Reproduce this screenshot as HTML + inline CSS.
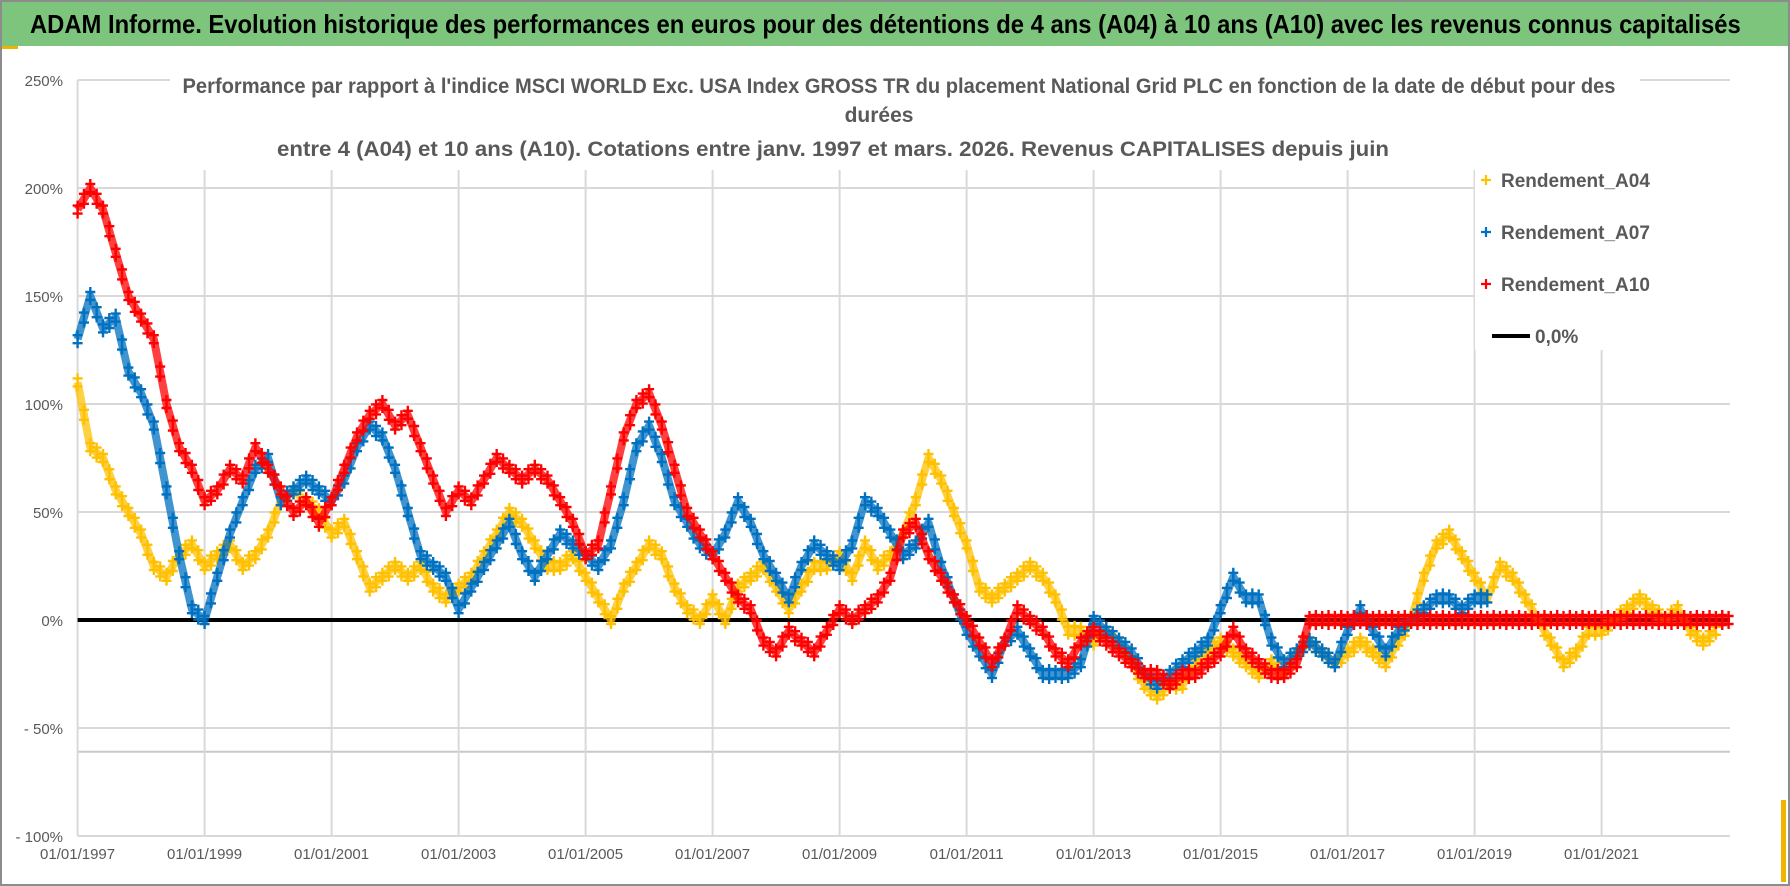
<!DOCTYPE html>
<html><head><meta charset="utf-8"><style>
body{margin:0;background:#fff;}
#wrap{position:relative;width:1790px;height:886px;overflow:hidden;background:#fff;font-family:"Liberation Sans",sans-serif;}
#frame{position:absolute;left:0;top:0;width:1786px;height:882px;border:2px solid #8c8c8c;}
#title{position:absolute;left:2px;top:2px;width:1786px;height:44px;background:#7dc47d;overflow:hidden;}
#titletext{position:absolute;left:28px;top:0;font-family:"Liberation Sans",sans-serif;font-weight:bold;font-size:26px;line-height:44px;color:#000;white-space:nowrap;transform:scaleX(0.915);transform-origin:0 50%;}
#bar{position:absolute;left:2px;top:46px;width:16px;height:3px;background:#f0b400;}
svg{position:absolute;left:0;top:0;}
</style></head><body>
<div id="wrap">
<div id="frame"></div>
<div id="title"><span id="titletext">ADAM Informe. Evolution historique des performances en euros pour des détentions de 4 ans (A04) à 10 ans (A10) avec les revenus connus capitalisés</span></div>
<div id="bar"></div>
<svg id="chart" width="1790" height="886"></svg>
</div>
<script>
const startYear = 1997;
const stepYears = 0.2;
const yTicks = [250,200,150,100,50,0,-50,-100];
const yTickLabels = ["250%","200%","150%","100%","50%","0%","- 50%","- 100%"];
const xTickYears = [1997,1999,2001,2003,2005,2007,2009,2011,2013,2015,2017,2019,2021];
const xTickLabels = ["01/01/1997","01/01/1999","01/01/2001","01/01/2003","01/01/2005","01/01/2007","01/01/2009","01/01/2011","01/01/2013","01/01/2015","01/01/2017","01/01/2019","01/01/2021"];
const seriesNames = ["Rendement_A04","Rendement_A07","Rendement_A10"];
const a04 = [110,80,75,60,50,40,25,20,30,35,25,30,35,25,30,40,55,60,55,50,40,45,30,15,20,25,20,25,15,10,15,20,30,40,50,45,35,25,25,30,20,10,0,15,25,35,30,15,5,0,10,0,15,20,25,15,5,15,25,25,30,20,35,25,30,40,55,75,65,50,35,15,10,15,20,25,20,10,-5,-5,-10,-5,-10,-20,-30,-35,-30,-30,-20,-15,-10,-15,-20,-25,-20,-25,-15,-10,-15,-20,-15,-10,-15,-20,-10,0,20,35,40,30,20,10,25,20,10,0,-10,-20,-15,-5,-5,0,5,10,5,0,5,-5,-10,-5];
const a07 = [130,150,135,140,115,105,90,60,30,5,0,20,40,55,70,75,55,60,65,60,55,65,80,90,85,70,50,30,25,20,5,15,25,35,45,30,20,30,40,35,30,25,35,55,80,90,75,55,45,35,30,40,55,45,30,20,10,25,35,30,25,35,55,50,40,30,35,45,25,10,-5,-15,-25,-10,-5,-15,-25,-25,-25,-20,0,-5,-10,-15,-25,-30,-25,-20,-15,-10,5,20,10,10,-10,-20,-15,-10,-15,-20,-5,5,-5,-15,-5,0,5,10,10,5,10,10];
const a10 = [190,200,190,170,150,140,130,100,80,70,55,60,70,65,80,70,60,50,55,45,55,70,85,95,100,90,95,80,65,50,60,55,65,75,70,65,70,65,55,45,30,35,60,85,100,105,90,70,50,40,30,20,10,5,-10,-15,-5,-10,-15,-5,5,0,5,10,20,40,45,30,20,10,0,-10,-20,-10,5,0,-5,-15,-20,-10,-5,-10,-15,-20,-25,-25,-30,-25,-25,-20,-15,-5,-15,-20,-25,-25,-20,0,0,0,0,0,0,0,0,0,0,0,0,0,0,0,0,0,0,0,0,0,0,0,0,0,0,0,0,0,0,0,0,0,0];
const seriesData = [a04,a07,a10];
const colors = ["#ffc000","#0070c0","#ff0000"];

const NS="http://www.w3.org/2000/svg";
const svg=document.getElementById('chart');
const X0=77.6, PXY=63.5, Y0=620, PXP=2.16, XR=1730;
function xs(yr){return X0+(yr-1997)*PXY;}
function ys(v){return Y0-v*PXP;}
function mk(tag,attrs,parent){const e=document.createElementNS(NS,tag);for(const k in attrs)e.setAttribute(k,attrs[k]);(parent||svg).appendChild(e);return e;}

yTicks.forEach((t,i)=>{
  const l=mk('line',{x1:X0,x2:XR,y1:ys(t),y2:ys(t),stroke:'#d9d9d9','stroke-width':2});
  
  
  const tx=mk('text',{x:63,y:ys(t)+6,'text-anchor':'end','font-size':15,fill:'#595959','font-family':'Liberation Sans, sans-serif'});
  tx.textContent=yTickLabels[i];
  
  
});
const ex=mk('line',{x1:X0,x2:XR,y1:ys(-61),y2:ys(-61),stroke:'#c8c8c8','stroke-width':2});


xTickYears.forEach((yr,i)=>{
  if(i>0){const l=mk('line',{x1:xs(yr),x2:xs(yr),y1:170,y2:ys(-100),stroke:'#d9d9d9','stroke-width':2});
  
  }
  const tx=mk('text',{x:xs(yr),y:859,'text-anchor':'middle','font-size':15,fill:'#595959','font-family':'Liberation Sans, sans-serif'});
  tx.textContent=xTickLabels[i];
  
  
});
const ax=mk('line',{x1:X0,x2:X0,y1:ys(250),y2:ys(-100),stroke:'#d9d9d9','stroke-width':2});



const sb=mk('rect',{x:170,y:66,width:1470,height:98,fill:'#fff'});


const sub=["Performance par rapport à l'indice MSCI WORLD Exc. USA Index GROSS TR  du placement National Grid PLC en fonction de la date de début pour des","durées","entre 4 (A04) et 10 ans (A10). Cotations entre janv. 1997 et mars. 2026. Revenus CAPITALISES depuis juin"];
const subX=[899,879,833], subY=[93,122,156], subLen=[1433,0,1112];
sub.forEach((s,i)=>{
  const a={x:subX[i],y:subY[i],'text-anchor':'middle','font-size':21,'font-weight':'bold',fill:'#595959','font-family':'Liberation Sans, sans-serif'};
  if(subLen[i]){a.textLength=subLen[i];a.lengthAdjust='spacingAndGlyphs';}
  const t=mk('text',a);
  t.textContent=s;
  
  
});

const z=mk('line',{x1:X0,x2:XR,y1:ys(0),y2:ys(0),stroke:'#000','stroke-width':4});



function plus(g,x,y,c,s,w){const p=mk('path',{d:`M${x-s},${y}h${2*s}M${x},${y-s}v${2*s}`,stroke:c,'stroke-width':w},g);
  
  }
seriesData.forEach((arr,si)=>{
  const g=mk('g',{});
  
  
  const pts=arr.map((v,i)=>xs(startYear+i*stepYears).toFixed(1)+','+ys(v).toFixed(1)).join(' ');
  const pl=mk('polyline',{points:pts,fill:'none',stroke:colors[si],'stroke-width':8,'stroke-linejoin':'round',opacity:0.75},g);
  
  
  arr.forEach((v,i)=>{
    const x=xs(startYear+i*stepYears),y=ys(v);
    plus(g,x,y-4,colors[si],5,2.4);
    plus(g,x,y+4,colors[si],5,2.4);
    if(i<arr.length-1){const x2=xs(startYear+(i+1)*stepYears),y2=ys(arr[i+1]);
      plus(g,(x+x2)/2,(y+y2)/2-5,colors[si],5,2.4);
      plus(g,(x+x2)/2,(y+y2)/2+5,colors[si],5,2.4);}
  });
});

const lb=mk('rect',{x:1475,y:160,width:280,height:190,fill:'#fff'});


const legY=[180,232,284,336];
const legNames=seriesNames.concat(["0,0%"]);
legNames.forEach((n,i)=>{
  const g=mk('g',{});
  
  
  if(i<3){mk('path',{d:`M${1481},${legY[i]}h10M${1486},${legY[i]-5}v10`,stroke:colors[i],'stroke-width':2.2},g);}
  else{mk('line',{x1:1492,x2:1530,y1:legY[i],y2:legY[i],stroke:'#000','stroke-width':4},g);}
  const t=mk('text',{x:i<3?1501:1535,y:legY[i]+7,'font-size':19,'font-weight':'bold',fill:'#595959','font-family':'Liberation Sans, sans-serif'},g);
  t.textContent=n;
});
const ra=mk('rect',{x:1781,y:800,width:5,height:82,fill:'#f0b400'});


</script>
</body></html>
